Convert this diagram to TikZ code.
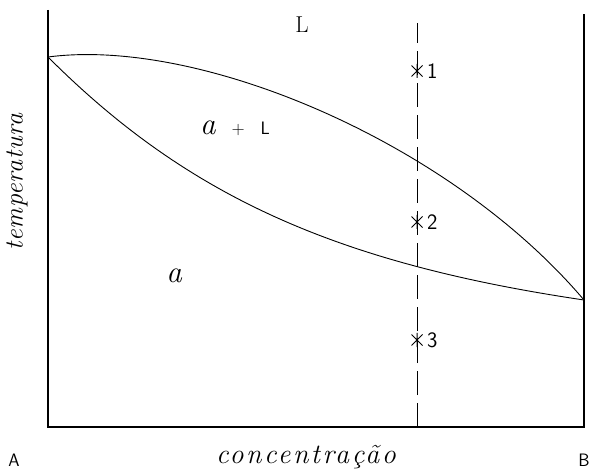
\documentclass[tikz,border=0pt]{standalone}
\usepackage{fontspec}
\usetikzlibrary{positioning}
\newfontfamily\widelabel[LetterSpace=9]{Latin Modern Roman}
\newfontfamily\narrowlabel[LetterSpace=2]{Latin Modern Roman}
\tikzset{
    axisline/.style={line width=1.1pt},
    phasecurve/.style={line width=0.9pt},
    cutline/.style={line width=1pt, dash pattern=on 24pt off 8pt},
    pointmark/.style={line width=1pt},
    pointlabel/.style={font=\sffamily\fontsize{22}{22}\selectfont, anchor=west, inner sep=1pt},
    endlabel/.style={font=\sffamily\fontsize{18}{18}\selectfont},
}
\begin{document}
\begin{tikzpicture}[x=1pt, y=1pt]
    \useasboundingbox (0,0) rectangle (595,472);
    % frame of the diagram
    \coordinate (A0) at (48,45);
    \coordinate (B0) at (584,45);
    \coordinate (Atop) at (48,462);
    \coordinate (Btop) at (584,458);
    \draw[axisline] (Atop) -- (A0) -- (B0) -- (Btop);

    % liquidus and solidus
    \coordinate (TA) at (48,415);
    \coordinate (TB) at (584,172);
    \draw[phasecurve] (TA) .. controls (200,435) and (450,330) .. (TB);
    \draw[phasecurve] (TA) .. controls (186,277) and (334,209) .. (TB);

    % vertical composition line
    \coordinate (cbot) at (417,45);
    \coordinate (ctop) at (417,449);
    \draw[cutline] (cbot) -- (ctop);

    % points 1, 2, 3
    \foreach \n/\y in {1/401, 2/250, 3/132} {
        \coordinate (p\n) at (417,\y);
        \draw[pointmark] ([shift={(-5.5,-5.5)}]p\n) -- ([shift={(5.5,5.5)}]p\n)
                         ([shift={(-5.5,5.5)}]p\n) -- ([shift={(5.5,-5.5)}]p\n)
                         ([shift={(0,-7)}]p\n) -- ([shift={(0,7)}]p\n);
        \node[pointlabel, right=9pt of p\n] (n\n) {\n};
    }

    % phase labels
    \node[font=\fontsize{23}{23}\selectfont] (liq) at (302,447) {L};
    \node (two) at (235,344) {\fontsize{31}{31}\selectfont\itshape a\hspace{16pt}\sffamily\upshape\fontsize{18}{18}\selectfont +\hspace{16pt}L};
    \node[font=\itshape\fontsize{31}{31}\selectfont] (sol) at (174,196) {a};

    % axis labels
    \node[endlabel] (A) at (14,12) {A};
    \node[endlabel] (B) at (584,12) {B};
    \node[font=\widelabel\itshape\fontsize{28}{28}\selectfont] (xl) at (306,15) {concentração};
    \node[font=\narrowlabel\itshape\fontsize{26}{26}\selectfont, rotate=90, inner sep=0pt] (yl) at (17,290) {temperatura};
\end{tikzpicture}
\end{document}
